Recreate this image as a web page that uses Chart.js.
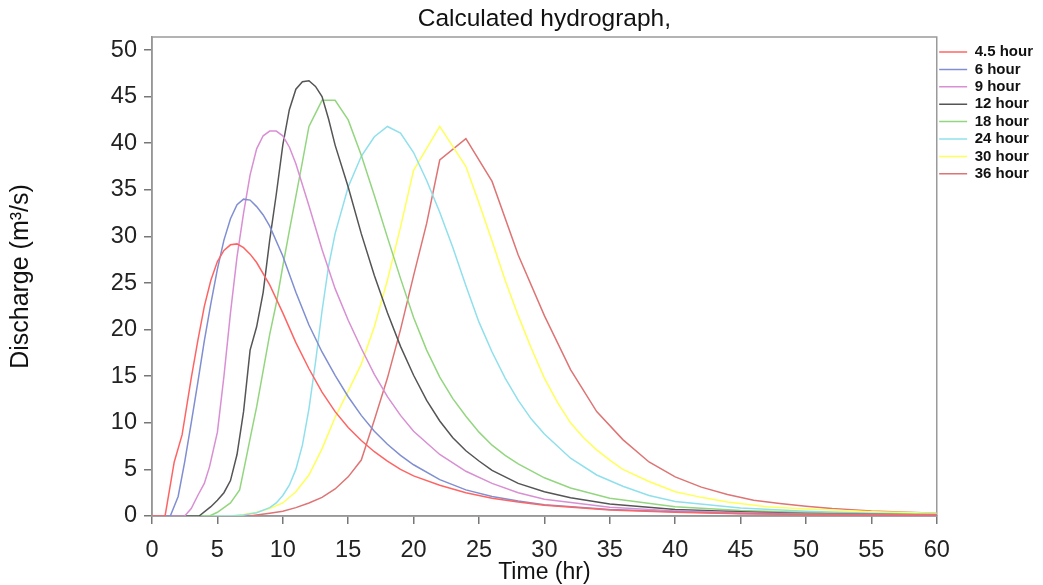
<!DOCTYPE html>
<html><head><meta charset="utf-8">
<script src="https://cdn.jsdelivr.net/npm/chart.js@4.4.1/dist/chart.umd.min.js"></script>
<style>html,body{margin:0;padding:0;background:#fff;}#wrap{width:1043px;height:585px;position:relative;}</style>
</head><body><div id="wrap"><canvas id="c"></canvas></div>
<script>
const seriesNames = ['4.5 hour', '6 hour', '9 hour', '12 hour', '18 hour', '24 hour', '30 hour', '36 hour'];

const t45 = [0, 1, 1.7, 2.3, 3, 3.5, 4, 4.5, 5, 5.5, 6, 6.5, 7, 7.5, 8, 9, 10, 11, 12, 13, 14, 15, 16, 17, 18, 19, 20, 22, 24, 26, 28, 30, 35, 40, 45, 50, 55, 60];
const q45 = [0, 0, 5.8, 8.7, 14.8, 18.8, 22.5, 25.3, 27.3, 28.5, 29.1, 29.2, 28.8, 28.1, 27.2, 24.8, 21.8, 18.6, 15.8, 13.3, 11.2, 9.5, 8.1, 6.9, 5.9, 5.0, 4.3, 3.3, 2.5, 1.9, 1.5, 1.15, 0.65, 0.4, 0.25, 0.16, 0.1, 0.07];

const t6 = [0, 1.4, 2, 2.5, 3, 3.5, 4, 4.5, 5, 5.5, 6, 6.5, 7, 7.5, 8, 8.5, 9, 10, 11, 12, 13, 14, 15, 16, 17, 18, 19, 20, 22, 24, 26, 28, 30, 35, 40, 45, 50, 55, 60];
const q6 = [0, 0, 2.1, 5.8, 10.0, 14.3, 18.8, 22.8, 26.5, 29.6, 31.9, 33.4, 34.0, 33.9, 33.2, 32.3, 31.1, 27.9, 24.0, 20.5, 17.6, 15.1, 12.8, 10.8, 9.1, 7.7, 6.5, 5.5, 3.9, 2.8, 2.1, 1.6, 1.2, 0.7, 0.45, 0.28, 0.18, 0.12, 0.08];

const t9 = [0, 2.5, 3, 3.5, 4, 4.4, 5, 5.5, 6, 6.5, 7, 7.5, 8, 8.5, 9, 9.5, 10, 10.5, 11, 12, 13, 14, 15, 16, 17, 18, 19, 20, 22, 24, 26, 28, 30, 35, 40, 45, 50, 55, 60];
const q9 = [0, 0, 0.8, 2.2, 3.5, 5.3, 9.0, 15.0, 21.8, 27.8, 32.5, 36.6, 39.4, 40.8, 41.3, 41.3, 40.8, 39.6, 37.8, 33.3, 28.6, 24.4, 21.0, 18.0, 15.2, 12.8, 10.8, 9.1, 6.6, 4.8, 3.5, 2.5, 1.8, 0.95, 0.55, 0.35, 0.22, 0.15, 0.1];

const t12 = [0, 3.6, 4.5, 5, 5.5, 6, 6.5, 7, 7.5, 8, 8.5, 9, 9.5, 10, 10.5, 11, 11.5, 12, 12.5, 13, 13.5, 14, 15, 16, 17, 18, 19, 20, 21, 22, 23, 24, 25, 26, 28, 30, 32, 35, 40, 45, 50, 55, 60];
const q12 = [0, 0, 1.0, 1.7, 2.5, 3.8, 6.6, 11.2, 17.8, 20.3, 24.0, 29.6, 34.5, 39.8, 43.6, 45.8, 46.6, 46.7, 46.1, 45.0, 42.6, 39.8, 35.3, 30.3, 25.8, 21.8, 18.2, 15.1, 12.4, 10.2, 8.4, 7.0, 5.9, 4.9, 3.5, 2.6, 1.95, 1.3, 0.7, 0.45, 0.28, 0.18, 0.12];

const t18 = [0, 4.4, 5, 6, 6.7, 7.2, 7.6, 8, 8.5, 9, 9.5, 10, 10.5, 11, 11.5, 12, 13, 14, 15, 16, 17, 18, 19, 20, 21, 22, 23, 24, 25, 26, 27, 28, 30, 32, 35, 40, 45, 50, 55, 60];
const q18 = [0, 0, 0.4, 1.4, 2.8, 6.2, 9.0, 11.7, 15.6, 19.5, 22.8, 26.8, 30.6, 34.3, 38.0, 41.8, 44.6, 44.6, 42.5, 38.7, 34.4, 29.9, 25.5, 21.3, 17.8, 14.9, 12.6, 10.7, 9.0, 7.6, 6.5, 5.6, 4.1, 3.0, 1.9, 1.0, 0.6, 0.38, 0.25, 0.15];

const t24 = [0, 6, 7, 8, 9, 9.5, 10, 10.5, 11, 11.5, 12, 12.5, 13, 13.5, 14, 15, 16, 17, 18, 19, 20, 21, 22, 23, 24, 25, 26, 27, 28, 29, 30, 32, 34, 36, 38, 40, 45, 50, 55, 60];
const q24 = [0, 0, 0.1, 0.35, 0.9, 1.4, 2.2, 3.3, 5.0, 7.6, 11.5, 16.5, 22.0, 26.8, 30.3, 35.3, 38.6, 40.7, 41.8, 41.1, 39.0, 36.0, 32.6, 28.8, 24.7, 20.8, 17.6, 14.8, 12.4, 10.4, 8.8, 6.2, 4.4, 3.2, 2.2, 1.55, 0.85, 0.5, 0.3, 0.2];

const t30 = [0, 6, 7, 8, 9, 10, 11, 12, 13, 14, 15, 16, 17, 18, 19, 20, 22, 24, 25, 26, 27, 28, 29, 30, 31, 32, 33, 34, 35, 36, 38, 40, 42, 44, 47, 50, 55, 60];
const q30 = [0, 0, 0.15, 0.4, 0.8, 1.4, 2.6, 4.4, 7.2, 10.6, 13.4, 16.3, 20.3, 25.3, 31.0, 37.1, 41.8, 37.5, 33.6, 29.5, 25.3, 21.5, 18.0, 14.8, 12.2, 10.0, 8.4, 7.1, 6.0, 5.0, 3.7, 2.6, 2.0, 1.5, 1.0, 0.75, 0.45, 0.3];

const t36 = [0, 7.5, 8, 9, 10, 11, 12, 13, 14, 15, 16, 17, 18, 19, 20, 21, 22, 24, 26, 28, 30, 32, 34, 36, 38, 40, 42, 44, 46, 48, 50, 52, 55, 60];
const q36 = [0, 0, 0.1, 0.3, 0.5, 0.9, 1.4, 2.0, 2.9, 4.2, 6.0, 10.3, 14.8, 20.0, 25.8, 31.4, 38.2, 40.5, 35.9, 28.0, 21.5, 15.7, 11.2, 8.2, 5.8, 4.2, 3.1, 2.3, 1.7, 1.35, 1.05, 0.8, 0.55, 0.3];

const times = [t45, t6, t9, t12, t18, t24, t30, t36];
const flows = [q45, q6, q9, q12, q18, q24, q30, q36];
const colors = ['#ff6464', '#7f8fd2', '#d98fd3', '#555555', '#93d67f', '#8fe0ec', '#ffff5a', '#de7474'];

const xTicks = [0, 5, 10, 15, 20, 25, 30, 35, 40, 45, 50, 55, 60];
const yTicks = [0, 5, 10, 15, 20, 25, 30, 35, 40, 45, 50];

const FONT = '"Liberation Sans", Arial, sans-serif';

const datasets = seriesNames.map((name, i) => ({
  label: name,
  data: times[i].map((t, j) => ({x: t, y: flows[i][j]})),
  borderColor: colors[i],
  backgroundColor: colors[i],
  borderWidth: 1.5,
  pointRadius: 0,
  tension: 0,
  fill: false
}));

const boxPlugin = {
  id: 'plotBox',
  beforeDatasetsDraw(chart) {
    const {ctx, chartArea: a} = chart;
    ctx.save();
    ctx.strokeStyle = '#9a9a9a';
    ctx.lineWidth = 1.5;
    ctx.strokeRect(a.left, a.top, a.right - a.left, a.bottom - a.top);
    ctx.restore();
  }
};

new Chart(document.getElementById('c'), {
  type: 'line',
  data: {datasets},
  options: {
    responsive: true,
    maintainAspectRatio: false,
    animation: false,
    layout: {padding: {left: 0, right: 0, top: 0, bottom: 0}},
    plugins: {
      title: {display: true, fullSize: false, text: 'Calculated hydrograph,', color: '#111',
        font: {family: FONT, size: 24.5, weight: 'normal'}, padding: {top: 5, bottom: 2.6}},
      legend: {position: 'right', align: 'start',
        title: {display: true, text: ' ', font: {family: FONT, size: 10}, padding: {top: 15, bottom: 15.1}},
        labels: {usePointStyle: true, pointStyle: 'line', pointStyleWidth: 28, color: '#111',
          font: {family: FONT, size: 15, weight: 'bold'}, padding: 2.4}},
      tooltip: {enabled: false}
    },
    scales: {
      x: {
        type: 'linear', min: 0, max: 60,
        afterBuildTicks: s => { s.ticks = xTicks.map(v => ({value: v})); },
        ticks: {color: '#222', font: {family: FONT, size: 23.5}, padding: 12, maxRotation: 0, autoSkip: false},
        grid: {drawOnChartArea: false, drawTicks: true, tickLength: 8, color: '#777', lineWidth: 1.5},
        border: {display: true, color: '#8a8a8a', width: 1.5},
        title: {display: true, text: 'Time (hr)', color: '#111', font: {family: FONT, size: 23, lineHeight: 1.1}, padding: {top: 0, bottom: 0}},
        afterFit: s => { s.height = 69; }
      },
      y: {
        type: 'linear', min: 0, max: 51.4,
        afterBuildTicks: s => { s.ticks = yTicks.map(v => ({value: v})); },
        ticks: {color: '#222', font: {family: FONT, size: 23.5}, padding: 7, autoSkip: false},
        grid: {drawOnChartArea: false, drawTicks: true, tickLength: 8, color: '#777', lineWidth: 1.5},
        border: {display: true, color: '#8a8a8a', width: 1.5},
        title: {display: true, text: 'Discharge (m³/s)', color: '#111', font: {family: FONT, size: 25}, padding: {top: 6, bottom: 0}},
        afterFit: s => { s.width = 152; }
      }
    }
  },
  plugins: [boxPlugin]
});
</script>
</body></html>
